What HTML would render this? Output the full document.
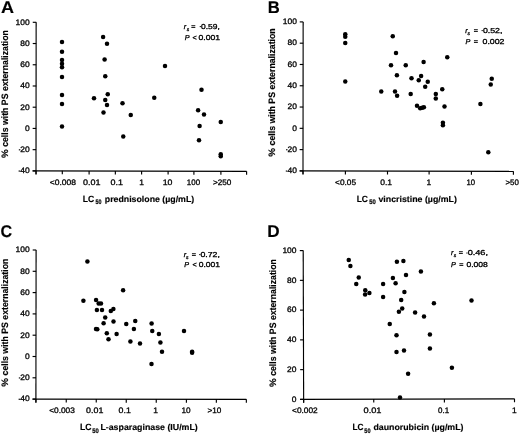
<!DOCTYPE html>
<html><head><meta charset="utf-8"><style>
html,body{margin:0;padding:0;background:#fff;}
svg{display:block;will-change:transform;filter:blur(0.3px);}
text{font-family:"Liberation Sans", sans-serif;fill:#000;text-rendering:geometricPrecision;stroke:#000;stroke-width:0.3px;}
text[font-weight=bold]{stroke-width:0.15px;}
</style></head><body>
<svg width="520" height="434" viewBox="0 0 520 434">
<rect width="520" height="434" fill="#fff"/>
<line x1="36.15" y1="22.30" x2="36.00" y2="174.60" stroke="#000" stroke-width="1.15"/>
<line x1="32.75" y1="22.30" x2="36.25" y2="22.30" stroke="#000" stroke-width="1.15"/>
<line x1="32.73" y1="43.53" x2="36.23" y2="43.53" stroke="#000" stroke-width="1.15"/>
<line x1="32.71" y1="64.76" x2="36.21" y2="64.76" stroke="#000" stroke-width="1.15"/>
<line x1="32.69" y1="85.99" x2="36.19" y2="85.99" stroke="#000" stroke-width="1.15"/>
<line x1="32.67" y1="107.21" x2="36.17" y2="107.21" stroke="#000" stroke-width="1.15"/>
<line x1="32.65" y1="128.44" x2="36.15" y2="128.44" stroke="#000" stroke-width="1.15"/>
<line x1="32.62" y1="149.67" x2="36.12" y2="149.67" stroke="#000" stroke-width="1.15"/>
<line x1="32.60" y1="170.90" x2="36.10" y2="170.90" stroke="#000" stroke-width="1.15"/>
<line x1="32.60" y1="170.90" x2="246.60" y2="171.40" stroke="#000" stroke-width="1.15"/>
<line x1="36.05" y1="170.81" x2="36.05" y2="174.31" stroke="#000" stroke-width="1.15"/>
<line x1="62.30" y1="170.87" x2="62.30" y2="174.37" stroke="#000" stroke-width="1.15"/>
<line x1="89.10" y1="170.93" x2="89.10" y2="174.43" stroke="#000" stroke-width="1.15"/>
<line x1="115.35" y1="170.99" x2="115.35" y2="174.49" stroke="#000" stroke-width="1.15"/>
<line x1="141.60" y1="171.05" x2="141.60" y2="174.55" stroke="#000" stroke-width="1.15"/>
<line x1="168.10" y1="171.12" x2="168.10" y2="174.62" stroke="#000" stroke-width="1.15"/>
<line x1="193.90" y1="171.18" x2="193.90" y2="174.68" stroke="#000" stroke-width="1.15"/>
<line x1="220.90" y1="171.24" x2="220.90" y2="174.74" stroke="#000" stroke-width="1.15"/>
<line x1="246.60" y1="171.30" x2="246.60" y2="174.80" stroke="#000" stroke-width="1.15"/>
<line x1="303.15" y1="21.90" x2="303.00" y2="174.60" stroke="#000" stroke-width="1.15"/>
<line x1="299.75" y1="21.90" x2="303.25" y2="21.90" stroke="#000" stroke-width="1.15"/>
<line x1="299.73" y1="43.19" x2="303.23" y2="43.19" stroke="#000" stroke-width="1.15"/>
<line x1="299.71" y1="64.47" x2="303.21" y2="64.47" stroke="#000" stroke-width="1.15"/>
<line x1="299.69" y1="85.76" x2="303.19" y2="85.76" stroke="#000" stroke-width="1.15"/>
<line x1="299.67" y1="107.04" x2="303.17" y2="107.04" stroke="#000" stroke-width="1.15"/>
<line x1="299.65" y1="128.33" x2="303.15" y2="128.33" stroke="#000" stroke-width="1.15"/>
<line x1="299.62" y1="149.61" x2="303.12" y2="149.61" stroke="#000" stroke-width="1.15"/>
<line x1="299.60" y1="170.90" x2="303.10" y2="170.90" stroke="#000" stroke-width="1.15"/>
<line x1="299.70" y1="170.90" x2="513.40" y2="171.40" stroke="#000" stroke-width="1.15"/>
<line x1="303.00" y1="170.81" x2="303.00" y2="174.31" stroke="#000" stroke-width="1.15"/>
<line x1="345.40" y1="170.91" x2="345.40" y2="174.41" stroke="#000" stroke-width="1.15"/>
<line x1="387.50" y1="171.01" x2="387.50" y2="174.51" stroke="#000" stroke-width="1.15"/>
<line x1="429.10" y1="171.10" x2="429.10" y2="174.60" stroke="#000" stroke-width="1.15"/>
<line x1="471.40" y1="171.20" x2="471.40" y2="174.70" stroke="#000" stroke-width="1.15"/>
<line x1="513.40" y1="171.30" x2="513.40" y2="174.80" stroke="#000" stroke-width="1.15"/>
<line x1="36.10" y1="250.00" x2="35.90" y2="402.70" stroke="#000" stroke-width="1.15"/>
<line x1="32.70" y1="250.00" x2="36.20" y2="250.00" stroke="#000" stroke-width="1.15"/>
<line x1="32.67" y1="271.30" x2="36.17" y2="271.30" stroke="#000" stroke-width="1.15"/>
<line x1="32.64" y1="292.60" x2="36.14" y2="292.60" stroke="#000" stroke-width="1.15"/>
<line x1="32.62" y1="313.90" x2="36.12" y2="313.90" stroke="#000" stroke-width="1.15"/>
<line x1="32.59" y1="335.20" x2="36.09" y2="335.20" stroke="#000" stroke-width="1.15"/>
<line x1="32.56" y1="356.50" x2="36.06" y2="356.50" stroke="#000" stroke-width="1.15"/>
<line x1="32.53" y1="377.80" x2="36.03" y2="377.80" stroke="#000" stroke-width="1.15"/>
<line x1="32.50" y1="399.10" x2="36.00" y2="399.10" stroke="#000" stroke-width="1.15"/>
<line x1="32.60" y1="399.10" x2="246.35" y2="399.40" stroke="#000" stroke-width="1.15"/>
<line x1="35.95" y1="399.00" x2="35.95" y2="402.50" stroke="#000" stroke-width="1.15"/>
<line x1="66.25" y1="399.05" x2="66.25" y2="402.55" stroke="#000" stroke-width="1.15"/>
<line x1="96.25" y1="399.09" x2="96.25" y2="402.59" stroke="#000" stroke-width="1.15"/>
<line x1="126.25" y1="399.13" x2="126.25" y2="402.63" stroke="#000" stroke-width="1.15"/>
<line x1="156.25" y1="399.17" x2="156.25" y2="402.67" stroke="#000" stroke-width="1.15"/>
<line x1="186.40" y1="399.22" x2="186.40" y2="402.72" stroke="#000" stroke-width="1.15"/>
<line x1="216.35" y1="399.26" x2="216.35" y2="402.76" stroke="#000" stroke-width="1.15"/>
<line x1="246.35" y1="399.30" x2="246.35" y2="402.80" stroke="#000" stroke-width="1.15"/>
<line x1="303.20" y1="250.60" x2="303.65" y2="402.80" stroke="#000" stroke-width="1.15"/>
<line x1="299.80" y1="250.60" x2="303.30" y2="250.60" stroke="#000" stroke-width="1.15"/>
<line x1="299.89" y1="280.36" x2="303.39" y2="280.36" stroke="#000" stroke-width="1.15"/>
<line x1="299.98" y1="310.12" x2="303.48" y2="310.12" stroke="#000" stroke-width="1.15"/>
<line x1="300.06" y1="339.88" x2="303.56" y2="339.88" stroke="#000" stroke-width="1.15"/>
<line x1="300.15" y1="369.64" x2="303.65" y2="369.64" stroke="#000" stroke-width="1.15"/>
<line x1="300.24" y1="399.40" x2="303.74" y2="399.40" stroke="#000" stroke-width="1.15"/>
<line x1="300.00" y1="399.40" x2="514.50" y2="398.85" stroke="#000" stroke-width="1.15"/>
<line x1="303.65" y1="399.29" x2="303.65" y2="402.79" stroke="#000" stroke-width="1.15"/>
<line x1="373.75" y1="399.11" x2="373.75" y2="402.61" stroke="#000" stroke-width="1.15"/>
<line x1="444.40" y1="398.93" x2="444.40" y2="402.43" stroke="#000" stroke-width="1.15"/>
<line x1="514.50" y1="398.75" x2="514.50" y2="402.25" stroke="#000" stroke-width="1.15"/>
<text transform="translate(29.70,24.60) scale(1.07,1)" font-size="7.9" text-anchor="end">100</text>
<text transform="translate(29.70,45.83) scale(1.07,1)" font-size="7.9" text-anchor="end">80</text>
<text transform="translate(29.70,67.06) scale(1.07,1)" font-size="7.9" text-anchor="end">60</text>
<text transform="translate(29.70,88.29) scale(1.07,1)" font-size="7.9" text-anchor="end">40</text>
<text transform="translate(29.70,109.51) scale(1.07,1)" font-size="7.9" text-anchor="end">20</text>
<text transform="translate(29.70,130.74) scale(1.07,1)" font-size="7.9" text-anchor="end">0</text>
<text transform="translate(29.70,151.97) scale(1.07,1)" font-size="7.9" text-anchor="end">20</text>
<rect x="18.82" y="149.27" width="1.5" height="1.1" fill="#000"/>
<text transform="translate(29.70,173.20) scale(1.07,1)" font-size="7.9" text-anchor="end">40</text>
<rect x="18.59" y="170.50" width="1.5" height="1.1" fill="#000"/>
<text transform="translate(296.90,24.20) scale(1.07,1)" font-size="7.9" text-anchor="end">100</text>
<text transform="translate(296.90,45.49) scale(1.07,1)" font-size="7.9" text-anchor="end">80</text>
<text transform="translate(296.90,66.77) scale(1.07,1)" font-size="7.9" text-anchor="end">60</text>
<text transform="translate(296.90,88.06) scale(1.07,1)" font-size="7.9" text-anchor="end">40</text>
<text transform="translate(296.90,109.34) scale(1.07,1)" font-size="7.9" text-anchor="end">20</text>
<text transform="translate(296.90,130.63) scale(1.07,1)" font-size="7.9" text-anchor="end">0</text>
<text transform="translate(296.90,151.91) scale(1.07,1)" font-size="7.9" text-anchor="end">20</text>
<rect x="286.02" y="149.21" width="1.5" height="1.1" fill="#000"/>
<text transform="translate(296.90,173.20) scale(1.07,1)" font-size="7.9" text-anchor="end">40</text>
<rect x="285.79" y="170.50" width="1.5" height="1.1" fill="#000"/>
<text transform="translate(29.70,252.30) scale(1.07,1)" font-size="7.9" text-anchor="end">100</text>
<text transform="translate(29.70,273.60) scale(1.07,1)" font-size="7.9" text-anchor="end">80</text>
<text transform="translate(29.70,294.90) scale(1.07,1)" font-size="7.9" text-anchor="end">60</text>
<text transform="translate(29.70,316.20) scale(1.07,1)" font-size="7.9" text-anchor="end">40</text>
<text transform="translate(29.70,337.50) scale(1.07,1)" font-size="7.9" text-anchor="end">20</text>
<text transform="translate(29.70,358.80) scale(1.07,1)" font-size="7.9" text-anchor="end">0</text>
<text transform="translate(29.70,380.10) scale(1.07,1)" font-size="7.9" text-anchor="end">20</text>
<rect x="18.82" y="377.40" width="1.5" height="1.1" fill="#000"/>
<text transform="translate(29.70,401.40) scale(1.07,1)" font-size="7.9" text-anchor="end">40</text>
<rect x="18.59" y="398.70" width="1.5" height="1.1" fill="#000"/>
<text transform="translate(296.50,252.90) scale(1.07,1)" font-size="7.9" text-anchor="end">100</text>
<text transform="translate(296.50,282.66) scale(1.07,1)" font-size="7.9" text-anchor="end">80</text>
<text transform="translate(296.50,312.42) scale(1.07,1)" font-size="7.9" text-anchor="end">60</text>
<text transform="translate(296.50,342.18) scale(1.07,1)" font-size="7.9" text-anchor="end">40</text>
<text transform="translate(296.50,371.94) scale(1.07,1)" font-size="7.9" text-anchor="end">20</text>
<text transform="translate(296.50,401.70) scale(1.07,1)" font-size="7.9" text-anchor="end">0</text>
<text transform="translate(49.77,184.95) scale(1.079,1)" font-size="7.9" font-weight="normal" font-style="normal" fill="#000">&lt;0.008</text>
<text transform="translate(83.04,184.95) scale(1.138,1)" font-size="7.9" font-weight="normal" font-style="normal" fill="#000">0.01</text>
<text transform="translate(110.54,184.95) scale(1.137,1)" font-size="7.9" font-weight="normal" font-style="normal" fill="#000">0.1</text>
<text transform="translate(139.14,184.95) scale(1.070,1)" font-size="7.9" font-weight="normal" font-style="normal" text-anchor="start">1</text>
<text transform="translate(162.64,184.95) scale(1.110,1)" font-size="7.9" font-weight="normal" font-style="normal" fill="#000">10</text>
<text transform="translate(186.85,184.95) scale(1.005,1)" font-size="7.9" font-weight="normal" font-style="normal" fill="#000">100</text>
<text transform="translate(212.89,184.95) scale(1.038,1)" font-size="7.9" font-weight="normal" font-style="normal" fill="#000">&gt;250</text>
<text transform="translate(335.04,184.60) scale(1.051,1)" font-size="7.9" font-weight="normal" font-style="normal" fill="#000">&lt;0.05</text>
<text transform="translate(380.26,184.60) scale(1.079,1)" font-size="7.9" font-weight="normal" font-style="normal" fill="#000">0.1</text>
<text transform="translate(426.44,184.60) scale(1.070,1)" font-size="7.9" font-weight="normal" font-style="normal" text-anchor="start">1</text>
<text transform="translate(466.52,184.60) scale(0.977,1)" font-size="7.9" font-weight="normal" font-style="normal" fill="#000">10</text>
<text transform="translate(505.40,184.60) scale(1.004,1)" font-size="7.9" font-weight="normal" font-style="normal" fill="#000">&gt;50</text>
<text transform="translate(49.18,412.80) scale(1.055,1)" font-size="7.9" font-weight="normal" font-style="normal" fill="#000">&lt;0.003</text>
<text transform="translate(86.10,412.80) scale(1.121,1)" font-size="7.9" font-weight="normal" font-style="normal" fill="#000">0.01</text>
<text transform="translate(118.60,412.80) scale(1.113,1)" font-size="7.9" font-weight="normal" font-style="normal" fill="#000">0.1</text>
<text transform="translate(153.16,412.80) scale(1.070,1)" font-size="7.9" font-weight="normal" font-style="normal" text-anchor="start">1</text>
<text transform="translate(181.48,412.80) scale(1.041,1)" font-size="7.9" font-weight="normal" font-style="normal" fill="#000">10</text>
<text transform="translate(207.49,412.80) scale(1.035,1)" font-size="7.9" font-weight="normal" font-style="normal" fill="#000">&gt;10</text>
<text transform="translate(292.03,413.20) scale(1.054,1)" font-size="7.9" font-weight="normal" font-style="normal" fill="#000">&lt;0.002</text>
<text transform="translate(363.58,413.20) scale(1.165,1)" font-size="7.9" font-weight="normal" font-style="normal" fill="#000">0.01</text>
<text transform="translate(437.98,413.20) scale(1.011,1)" font-size="7.9" font-weight="normal" font-style="normal" fill="#000">0.1</text>
<text transform="translate(511.94,413.20) scale(1.070,1)" font-size="7.9" font-weight="normal" font-style="normal" text-anchor="start">1</text>
<text transform="translate(1.10,12.70) scale(1.062,1)" font-size="17.0" font-weight="bold" font-style="normal" fill="#000">A</text>
<text transform="translate(267.73,12.55) scale(0.979,1)" font-size="17.0" font-weight="bold" font-style="normal" fill="#000">B</text>
<text transform="translate(0.52,237.20) scale(0.947,1)" font-size="17.0" font-weight="bold" font-style="normal" fill="#000">C</text>
<text transform="translate(267.14,237.30) scale(1.008,1)" font-size="17.0" font-weight="bold" font-style="normal" fill="#000">D</text>
<text transform="translate(82.77,201.50) scale(0.956,1)" font-size="9.0" font-weight="bold" font-style="normal" fill="#000">LC</text>
<text transform="translate(95.42,203.80) scale(0.830,1)" font-size="6.5" font-weight="bold" font-style="normal" fill="#000" style="stroke-width:0.2px">50</text>
<text transform="translate(104.78,201.50) scale(1.021,1)" font-size="8.6" font-weight="bold" font-style="normal" fill="#000">prednisolone (µg/mL)</text>
<text transform="translate(356.63,201.80) scale(0.938,1)" font-size="9.0" font-weight="bold" font-style="normal" fill="#000">LC</text>
<text transform="translate(369.21,204.40) scale(0.905,1)" font-size="6.5" font-weight="bold" font-style="normal" fill="#000" style="stroke-width:0.2px">50</text>
<text transform="translate(378.46,201.80) scale(1.024,1)" font-size="8.6" font-weight="bold" font-style="normal" fill="#000">vincristine (µg/mL)</text>
<text transform="translate(79.92,429.60) scale(0.961,1)" font-size="9.0" font-weight="bold" font-style="normal" fill="#000">LC</text>
<text transform="translate(92.31,432.70) scale(0.905,1)" font-size="6.5" font-weight="bold" font-style="normal" fill="#000" style="stroke-width:0.2px">50</text>
<text transform="translate(100.41,429.60) scale(1.024,1)" font-size="8.6" font-weight="bold" font-style="normal" fill="#000">L-asparaginase (IU/mL)</text>
<text transform="translate(352.44,429.80) scale(0.916,1)" font-size="9.0" font-weight="bold" font-style="normal" fill="#000">LC</text>
<text transform="translate(364.32,432.60) scale(0.860,1)" font-size="6.5" font-weight="bold" font-style="normal" fill="#000" style="stroke-width:0.2px">50</text>
<text transform="translate(373.45,429.80) scale(1.023,1)" font-size="8.6" font-weight="bold" font-style="normal" fill="#000">daunorubicin (µg/mL)</text>
<text transform="translate(8.20,158.04) rotate(-90) scale(1.053,1)" font-size="9.3" font-weight="bold">%</text>
<text transform="translate(8.20,146.85) rotate(-90) scale(0.938,1)" font-size="9.3" font-weight="bold">cells with PS externalization</text>
<text transform="translate(275.10,156.64) rotate(-90) scale(1.053,1)" font-size="9.3" font-weight="bold">%</text>
<text transform="translate(275.10,145.45) rotate(-90) scale(0.941,1)" font-size="9.3" font-weight="bold">cells with PS externalization</text>
<text transform="translate(8.20,386.64) rotate(-90) scale(1.053,1)" font-size="9.3" font-weight="bold">%</text>
<text transform="translate(8.20,375.45) rotate(-90) scale(0.938,1)" font-size="9.3" font-weight="bold">cells with PS externalization</text>
<text transform="translate(275.90,387.04) rotate(-90) scale(1.053,1)" font-size="9.3" font-weight="bold">%</text>
<text transform="translate(275.90,375.85) rotate(-90) scale(0.938,1)" font-size="9.3" font-weight="bold">cells with PS externalization</text>
<text transform="translate(183.87,28.90) scale(1.000,1)" font-size="7.2" font-weight="normal" font-style="italic" text-anchor="start">r</text>
<text transform="translate(186.79,30.50) scale(1.000,1)" font-size="5.0" font-weight="normal" font-style="italic" text-anchor="start">s</text>
<text transform="translate(191.24,28.90) scale(1.000,1)" font-size="7.2" font-weight="normal" font-style="normal" text-anchor="start">=</text>
<rect x="199.70" y="26.15" width="1.3" height="0.95" fill="#000"/>
<text transform="translate(201.06,28.90) scale(1.173,1)" font-size="7.2" font-weight="normal" font-style="normal" fill="#000">0.59,</text>
<text transform="translate(184.63,39.60) scale(1.000,1)" font-size="7.2" font-weight="normal" font-style="italic" text-anchor="start">P</text>
<text transform="translate(192.54,39.60) scale(1.000,1)" font-size="7.2" font-weight="normal" font-style="normal" text-anchor="start">&lt;</text>
<text transform="translate(198.46,39.60) scale(1.196,1)" font-size="7.2" font-weight="normal" font-style="normal" fill="#000">0.001</text>
<text transform="translate(465.27,32.90) scale(1.000,1)" font-size="7.2" font-weight="normal" font-style="italic" text-anchor="start">r</text>
<text transform="translate(467.44,34.50) scale(1.000,1)" font-size="5.0" font-weight="normal" font-style="italic" text-anchor="start">s</text>
<text transform="translate(473.69,32.90) scale(1.000,1)" font-size="7.2" font-weight="normal" font-style="normal" text-anchor="start">=</text>
<rect x="481.55" y="30.15" width="1.3" height="0.95" fill="#000"/>
<text transform="translate(482.90,32.90) scale(1.217,1)" font-size="7.2" font-weight="normal" font-style="normal" fill="#000">0.52,</text>
<text transform="translate(465.38,43.60) scale(1.000,1)" font-size="7.2" font-weight="normal" font-style="italic" text-anchor="start">P</text>
<text transform="translate(473.69,43.60) scale(1.000,1)" font-size="7.2" font-weight="normal" font-style="normal" text-anchor="start">=</text>
<text transform="translate(482.55,43.60) scale(1.220,1)" font-size="7.2" font-weight="normal" font-style="normal" fill="#000">0.002</text>
<text transform="translate(183.87,256.90) scale(1.000,1)" font-size="7.2" font-weight="normal" font-style="italic" text-anchor="start">r</text>
<text transform="translate(186.09,258.50) scale(1.000,1)" font-size="5.0" font-weight="normal" font-style="italic" text-anchor="start">s</text>
<text transform="translate(191.69,256.90) scale(1.000,1)" font-size="7.2" font-weight="normal" font-style="normal" text-anchor="start">=</text>
<rect x="199.10" y="254.15" width="1.3" height="0.95" fill="#000"/>
<text transform="translate(200.45,256.90) scale(1.217,1)" font-size="7.2" font-weight="normal" font-style="normal" fill="#000">0.72,</text>
<text transform="translate(184.18,267.00) scale(1.000,1)" font-size="7.2" font-weight="normal" font-style="italic" text-anchor="start">P</text>
<text transform="translate(192.54,267.00) scale(1.000,1)" font-size="7.2" font-weight="normal" font-style="normal" text-anchor="start">&lt;</text>
<text transform="translate(198.66,267.00) scale(1.185,1)" font-size="7.2" font-weight="normal" font-style="normal" fill="#000">0.001</text>
<text transform="translate(451.02,255.30) scale(1.000,1)" font-size="7.2" font-weight="normal" font-style="italic" text-anchor="start">r</text>
<text transform="translate(453.69,256.90) scale(1.000,1)" font-size="5.0" font-weight="normal" font-style="italic" text-anchor="start">s</text>
<text transform="translate(458.84,255.30) scale(1.000,1)" font-size="7.2" font-weight="normal" font-style="normal" text-anchor="start">=</text>
<rect x="466.30" y="252.55" width="1.3" height="0.95" fill="#000"/>
<text transform="translate(467.63,255.30) scale(1.270,1)" font-size="7.2" font-weight="normal" font-style="normal" fill="#000">0.46,</text>
<text transform="translate(450.93,266.70) scale(1.000,1)" font-size="7.2" font-weight="normal" font-style="italic" text-anchor="start">P</text>
<text transform="translate(459.24,266.70) scale(1.000,1)" font-size="7.2" font-weight="normal" font-style="normal" text-anchor="start">=</text>
<text transform="translate(466.46,266.70) scale(1.191,1)" font-size="7.2" font-weight="normal" font-style="normal" fill="#000">0.008</text>
<circle cx="62.00" cy="42.00" r="2.25"/>
<circle cx="62.00" cy="51.75" r="2.25"/>
<circle cx="62.00" cy="60.00" r="2.25"/>
<circle cx="62.00" cy="63.70" r="2.25"/>
<circle cx="62.00" cy="67.30" r="2.25"/>
<circle cx="62.00" cy="77.00" r="2.25"/>
<circle cx="62.00" cy="95.00" r="2.25"/>
<circle cx="62.00" cy="104.00" r="2.25"/>
<circle cx="62.00" cy="126.50" r="2.25"/>
<circle cx="103.10" cy="37.10" r="2.25"/>
<circle cx="107.00" cy="43.75" r="2.25"/>
<circle cx="104.60" cy="59.40" r="2.25"/>
<circle cx="105.25" cy="76.25" r="2.25"/>
<circle cx="107.75" cy="94.25" r="2.25"/>
<circle cx="105.25" cy="100.00" r="2.25"/>
<circle cx="107.00" cy="105.00" r="2.25"/>
<circle cx="103.50" cy="112.50" r="2.25"/>
<circle cx="94.00" cy="98.25" r="2.25"/>
<circle cx="122.50" cy="103.25" r="2.25"/>
<circle cx="123.25" cy="136.60" r="2.25"/>
<circle cx="130.75" cy="115.00" r="2.25"/>
<circle cx="154.25" cy="97.75" r="2.25"/>
<circle cx="165.00" cy="66.00" r="2.25"/>
<circle cx="201.50" cy="89.75" r="2.25"/>
<circle cx="198.10" cy="110.25" r="2.25"/>
<circle cx="204.00" cy="114.40" r="2.25"/>
<circle cx="220.75" cy="122.00" r="2.25"/>
<circle cx="199.60" cy="126.10" r="2.25"/>
<circle cx="199.00" cy="140.25" r="2.25"/>
<circle cx="220.75" cy="154.25" r="2.25"/>
<circle cx="220.75" cy="156.25" r="2.25"/>
<circle cx="345.25" cy="34.25" r="2.25"/>
<circle cx="345.25" cy="36.75" r="2.25"/>
<circle cx="345.25" cy="43.00" r="2.25"/>
<circle cx="345.25" cy="81.50" r="2.25"/>
<circle cx="392.75" cy="36.30" r="2.25"/>
<circle cx="396.00" cy="52.90" r="2.25"/>
<circle cx="391.00" cy="65.25" r="2.25"/>
<circle cx="405.75" cy="65.25" r="2.25"/>
<circle cx="423.60" cy="62.10" r="2.25"/>
<circle cx="396.90" cy="75.30" r="2.25"/>
<circle cx="411.50" cy="78.30" r="2.25"/>
<circle cx="421.10" cy="75.90" r="2.25"/>
<circle cx="418.75" cy="80.25" r="2.25"/>
<circle cx="427.75" cy="81.70" r="2.25"/>
<circle cx="425.20" cy="86.80" r="2.25"/>
<circle cx="381.25" cy="91.50" r="2.25"/>
<circle cx="395.00" cy="91.60" r="2.25"/>
<circle cx="397.10" cy="95.80" r="2.25"/>
<circle cx="410.70" cy="94.00" r="2.25"/>
<circle cx="417.00" cy="105.70" r="2.25"/>
<circle cx="420.20" cy="108.20" r="2.25"/>
<circle cx="422.20" cy="107.80" r="2.25"/>
<circle cx="423.90" cy="107.20" r="2.25"/>
<circle cx="442.25" cy="89.30" r="2.25"/>
<circle cx="435.80" cy="93.90" r="2.25"/>
<circle cx="435.80" cy="98.40" r="2.25"/>
<circle cx="447.25" cy="57.25" r="2.25"/>
<circle cx="444.50" cy="106.50" r="2.25"/>
<circle cx="442.90" cy="122.70" r="2.25"/>
<circle cx="442.90" cy="125.20" r="2.25"/>
<circle cx="480.40" cy="104.10" r="2.25"/>
<circle cx="491.75" cy="78.75" r="2.25"/>
<circle cx="490.75" cy="84.50" r="2.25"/>
<circle cx="488.30" cy="152.30" r="2.25"/>
<circle cx="87.40" cy="261.50" r="2.25"/>
<circle cx="123.10" cy="290.25" r="2.25"/>
<circle cx="83.40" cy="300.80" r="2.25"/>
<circle cx="96.06" cy="299.90" r="2.25"/>
<circle cx="98.65" cy="303.40" r="2.25"/>
<circle cx="100.96" cy="303.40" r="2.25"/>
<circle cx="96.90" cy="309.90" r="2.25"/>
<circle cx="102.00" cy="309.90" r="2.25"/>
<circle cx="110.80" cy="310.90" r="2.25"/>
<circle cx="113.40" cy="309.00" r="2.25"/>
<circle cx="105.20" cy="317.40" r="2.25"/>
<circle cx="103.60" cy="323.30" r="2.25"/>
<circle cx="113.50" cy="321.60" r="2.25"/>
<circle cx="126.25" cy="324.10" r="2.25"/>
<circle cx="135.25" cy="320.90" r="2.25"/>
<circle cx="96.00" cy="329.10" r="2.25"/>
<circle cx="97.30" cy="329.20" r="2.25"/>
<circle cx="106.80" cy="333.30" r="2.25"/>
<circle cx="116.60" cy="334.10" r="2.25"/>
<circle cx="108.50" cy="339.20" r="2.25"/>
<circle cx="133.90" cy="329.10" r="2.25"/>
<circle cx="130.40" cy="341.60" r="2.25"/>
<circle cx="140.00" cy="343.40" r="2.25"/>
<circle cx="151.60" cy="323.40" r="2.25"/>
<circle cx="152.25" cy="330.90" r="2.25"/>
<circle cx="158.90" cy="334.10" r="2.25"/>
<circle cx="160.40" cy="342.50" r="2.25"/>
<circle cx="162.00" cy="351.70" r="2.25"/>
<circle cx="151.50" cy="364.00" r="2.25"/>
<circle cx="184.00" cy="330.90" r="2.25"/>
<circle cx="192.10" cy="351.80" r="2.25"/>
<circle cx="192.10" cy="352.80" r="2.25"/>
<circle cx="348.75" cy="260.00" r="2.25"/>
<circle cx="350.40" cy="266.00" r="2.25"/>
<circle cx="358.75" cy="277.50" r="2.25"/>
<circle cx="356.25" cy="284.00" r="2.25"/>
<circle cx="365.25" cy="290.25" r="2.25"/>
<circle cx="365.10" cy="294.50" r="2.25"/>
<circle cx="369.40" cy="292.90" r="2.25"/>
<circle cx="383.10" cy="284.00" r="2.25"/>
<circle cx="383.10" cy="297.10" r="2.25"/>
<circle cx="396.90" cy="261.75" r="2.25"/>
<circle cx="403.40" cy="261.00" r="2.25"/>
<circle cx="392.90" cy="278.10" r="2.25"/>
<circle cx="395.60" cy="283.25" r="2.25"/>
<circle cx="406.00" cy="275.00" r="2.25"/>
<circle cx="420.90" cy="271.50" r="2.25"/>
<circle cx="404.40" cy="292.10" r="2.25"/>
<circle cx="401.20" cy="300.10" r="2.25"/>
<circle cx="402.20" cy="308.40" r="2.25"/>
<circle cx="398.90" cy="311.80" r="2.25"/>
<circle cx="415.10" cy="312.40" r="2.25"/>
<circle cx="424.00" cy="316.50" r="2.25"/>
<circle cx="389.75" cy="323.90" r="2.25"/>
<circle cx="396.50" cy="335.25" r="2.25"/>
<circle cx="429.90" cy="334.50" r="2.25"/>
<circle cx="433.90" cy="303.20" r="2.25"/>
<circle cx="471.50" cy="300.50" r="2.25"/>
<circle cx="396.50" cy="352.10" r="2.25"/>
<circle cx="404.00" cy="350.40" r="2.25"/>
<circle cx="429.90" cy="348.50" r="2.25"/>
<circle cx="408.10" cy="373.75" r="2.25"/>
<circle cx="400.00" cy="397.50" r="2.25"/>
<circle cx="451.90" cy="367.70" r="2.25"/>
</svg>
</body></html>
